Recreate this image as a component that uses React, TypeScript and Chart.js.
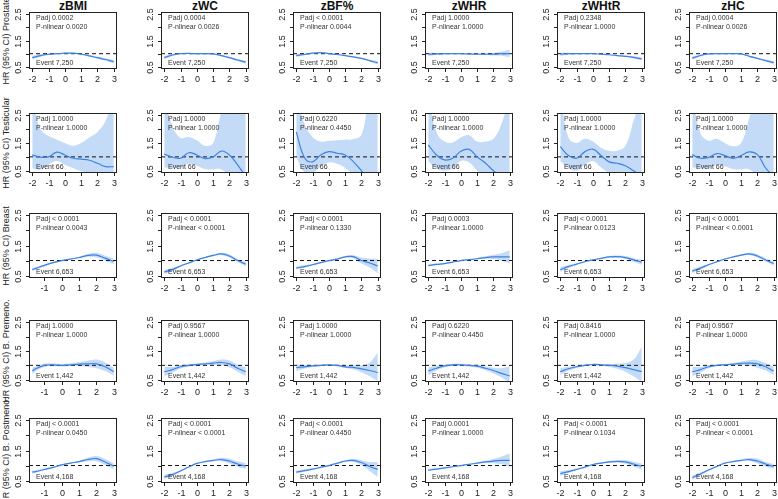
import React, { useEffect, useRef } from 'react';
import { Chart, registerables } from 'chart.js';

Chart.register(...registerables);

// ---------------- DATA ----------------
const measures = ['zBMI', 'zWC', 'zBF%', 'zWHR', 'zWHtR', 'zHC'];
const outcomes = ['Prostate', 'Testicular', 'Breast', 'B. Premeno.', 'B. Postmeno.'];
const events = ['7,250', '66', '6,653', '1,442', '4,168'];
const xGrid = [-2, -1.5, -1, -0.5, 0, 0.5, 1, 1.5, 2, 2.5, 3];
const xGridShort = [-1.7, -1.5, -1, -0.5, 0, 0.5, 1, 1.5, 2, 2.5, 3];
const xTicks = [-2, -1, 0, 1, 2, 3];
const yTicks = [0.5, 1, 1.5, 2, 2.5];
const yTickLabels = ['0.5', '', '1.5', '', '2.5'];
const refHR = 1;

const prostatePadj = ['0.0002', '0.0004', '< 0.0001', '1.0000', '0.2348', '0.0004'];
const prostatePnl = ['0.0020', '0.0026', '0.0044', '1.0000', '1.0000', '0.0026'];
const testicularPadj = ['1.0000', '1.0000', '0.6220', '1.0000', '1.0000', '1.0000'];
const testicularPnl = ['1.0000', '1.0000', '0.4450', '1.0000', '1.0000', '1.0000'];
const breastPadj = ['< 0.0001', '< 0.0001', '< 0.0001', '0.0003', '< 0.0001', '< 0.0001'];
const breastPnl = ['0.0043', '< 0.0001', '0.1330', '1.0000', '0.0123', '< 0.0001'];
const premenoPadj = ['1.0000', '0.9567', '1.0000', '0.6220', '0.8416', '0.9567'];
const premenoPnl = ['1.0000', '1.0000', '1.0000', '0.4450', '1.0000', '1.0000'];
const postmenoPadj = ['< 0.0001', '< 0.0001', '< 0.0001', '0.0001', '< 0.0001', '< 0.0001'];
const postmenoPnl = ['0.0450', '< 0.0001', '0.4450', '1.0000', '0.1034', '< 0.0001'];

// Prostate
const prostateFit = [
  [0.85, 0.93, 0.98, 1.0, 1.02, 1.02, 0.98, 0.92, 0.85, 0.78, 0.7],
  [0.85, 0.95, 1.0, 1.01, 1.0, 1.0, 0.99, 0.93, 0.85, 0.76, 0.68],
  [0.93, 0.97, 1.02, 1.04, 1.0, 0.97, 0.93, 0.88, 0.82, 0.74, 0.65],
  [0.98, 0.99, 1.0, 1.0, 1.0, 0.99, 0.98, 0.98, 0.98, 1.0, 1.0],
  [0.98, 1.0, 1.0, 1.0, 1.0, 0.98, 0.96, 0.93, 0.9, 0.86, 0.8],
  [0.83, 0.93, 0.99, 1.0, 1.0, 1.0, 0.99, 0.9, 0.82, 0.74, 0.66],
];
const prostateLo = [
  [0.78, 0.88, 0.95, 0.98, 1.0, 1.0, 0.96, 0.89, 0.81, 0.73, 0.63],
  [0.79, 0.91, 0.98, 0.99, 0.98, 0.98, 0.97, 0.9, 0.82, 0.72, 0.62],
  [0.87, 0.94, 1.0, 1.02, 0.98, 0.95, 0.91, 0.86, 0.79, 0.7, 0.58],
  [0.91, 0.95, 0.98, 0.99, 0.99, 0.98, 0.96, 0.95, 0.93, 0.92, 0.86],
  [0.91, 0.96, 0.98, 0.99, 0.99, 0.97, 0.95, 0.91, 0.88, 0.82, 0.74],
  [0.77, 0.89, 0.97, 0.99, 0.99, 0.99, 0.97, 0.88, 0.79, 0.7, 0.6],
];
const prostateHi = [
  [0.92, 0.98, 1.01, 1.02, 1.04, 1.04, 1.0, 0.95, 0.89, 0.83, 0.77],
  [0.91, 0.99, 1.02, 1.03, 1.02, 1.02, 1.01, 0.96, 0.88, 0.8, 0.74],
  [0.99, 1.0, 1.04, 1.06, 1.02, 0.99, 0.95, 0.9, 0.85, 0.78, 0.72],
  [1.05, 1.03, 1.02, 1.01, 1.01, 1.0, 1.0, 1.01, 1.03, 1.08, 1.15],
  [1.05, 1.04, 1.02, 1.01, 1.01, 0.99, 0.97, 0.95, 0.92, 0.9, 0.86],
  [0.89, 0.97, 1.01, 1.01, 1.01, 1.01, 1.01, 0.93, 0.85, 0.78, 0.72],
];

// Testicular
const testicularFit = [
  [1.07, 0.99, 1.0, 1.17, 1.07, 0.95, 0.92, 0.88, 0.77, 0.65, 0.65],
  [1.1, 0.99, 0.95, 1.15, 1.07, 0.94, 1.0, 1.21, 1.07, 0.71, 0.3],
  [1.9, 0.98, 0.82, 1.07, 1.19, 1.13, 1.07, 0.83, 0.5, 0.15, -0.2],
  [1.43, 1.07, 0.89, 0.95, 1.2, 1.27, 1.0, 0.78, 0.5, 0.25, 0.0],
  [1.37, 1.05, 0.95, 1.18, 1.28, 1.05, 0.82, 0.77, 0.68, 0.5, 0.3],
  [1.08, 0.95, 0.98, 1.12, 1.05, 0.95, 1.05, 1.18, 1.08, 0.6, 0.3],
];
const testicularLo = [
  [0.58, 0.54, 0.72, 0.85, 0.72, 0.6, 0.48, 0.4, 0.3, 0.2, 0.1],
  [0.62, 0.6, 0.62, 0.75, 0.68, 0.56, 0.55, 0.55, 0.3, 0.0, -0.2],
  [1.0, 0.45, 0.42, 0.65, 0.8, 0.75, 0.6, 0.35, 0.1, -0.1, -0.3],
  [0.85, 0.58, 0.5, 0.58, 0.85, 0.8, 0.5, 0.25, 0.05, -0.1, -0.3],
  [0.85, 0.6, 0.5, 0.72, 0.85, 0.62, 0.42, 0.3, 0.2, 0.0, -0.2],
  [0.62, 0.6, 0.58, 0.72, 0.66, 0.56, 0.55, 0.55, 0.3, 0.0, -0.2],
];
const testicularHi = [
  [3.0, 2.0, 1.75, 1.63, 1.5, 1.4, 1.5, 1.7, 1.9, 2.3, 3.2],
  [3.2, 2.1, 1.68, 1.72, 1.6, 1.4, 1.5, 2.6, 3.2, 3.2, 3.2],
  [3.2, 2.2, 1.72, 1.55, 1.58, 1.6, 1.62, 1.64, 1.8, 3.0, 3.2],
  [3.2, 1.9, 1.55, 1.52, 1.7, 1.78, 1.55, 1.55, 1.65, 2.2, 3.2],
  [3.2, 1.7, 1.5, 1.65, 1.55, 1.33, 1.22, 1.22, 1.4, 2.3, 3.2],
  [3.2, 1.85, 1.58, 1.65, 1.5, 1.38, 1.5, 2.4, 3.2, 3.2, 3.2],
];

// Breast
const breastFit = [
  [0.7, 0.74, 0.84, 0.93, 1.0, 1.05, 1.1, 1.17, 1.18, 1.08, 0.97],
  [0.62, 0.7, 0.82, 0.92, 1.02, 1.1, 1.17, 1.22, 1.15, 1.0, 0.88],
  [0.75, 0.8, 0.86, 0.93, 1.0, 1.05, 1.12, 1.13, 1.0, 0.92, 0.82],
  [0.83, 0.87, 0.9, 0.95, 1.0, 1.03, 1.06, 1.1, 1.12, 1.12, 1.12],
  [0.7, 0.8, 0.88, 0.96, 1.02, 1.07, 1.12, 1.13, 1.1, 1.02, 0.95],
  [0.65, 0.75, 0.86, 0.96, 1.05, 1.12, 1.18, 1.22, 1.15, 1.02, 0.9],
];
const breastLo = [
  [0.65, 0.7, 0.81, 0.91, 0.98, 1.03, 1.07, 1.12, 1.1, 1.0, 0.88],
  [0.55, 0.65, 0.79, 0.9, 1.0, 1.08, 1.14, 1.18, 1.1, 0.95, 0.81],
  [0.7, 0.76, 0.83, 0.91, 0.98, 1.03, 1.09, 1.08, 0.9, 0.77, 0.58],
  [0.79, 0.84, 0.88, 0.93, 0.99, 1.02, 1.04, 1.06, 1.05, 1.0, 0.9],
  [0.62, 0.75, 0.85, 0.94, 1.0, 1.05, 1.09, 1.09, 1.05, 0.96, 0.86],
  [0.58, 0.7, 0.83, 0.94, 1.03, 1.1, 1.15, 1.18, 1.1, 0.97, 0.83],
];
const breastHi = [
  [0.75, 0.78, 0.87, 0.95, 1.02, 1.07, 1.13, 1.22, 1.26, 1.16, 1.06],
  [0.69, 0.75, 0.85, 0.94, 1.04, 1.12, 1.2, 1.26, 1.2, 1.05, 0.95],
  [0.8, 0.84, 0.89, 0.95, 1.02, 1.07, 1.15, 1.18, 1.1, 1.07, 1.06],
  [0.87, 0.9, 0.92, 0.97, 1.01, 1.04, 1.08, 1.14, 1.19, 1.24, 1.34],
  [0.78, 0.85, 0.91, 0.98, 1.04, 1.09, 1.15, 1.17, 1.15, 1.08, 1.04],
  [0.72, 0.8, 0.89, 0.98, 1.07, 1.14, 1.21, 1.26, 1.2, 1.07, 0.97],
];

// Breast, premenopausal
const premenoFit = [
  [0.8, 0.88, 1.0, 1.02, 1.0, 1.02, 1.04, 1.05, 1.05, 0.95, 0.78],
  [0.78, 0.85, 0.95, 1.0, 1.03, 1.05, 1.08, 1.1, 1.05, 0.9, 0.78],
  [0.92, 0.95, 0.98, 1.0, 1.02, 1.0, 0.95, 0.93, 0.88, 0.82, 0.75],
  [0.8, 0.9, 0.98, 1.02, 1.02, 1.0, 0.97, 0.9, 0.82, 0.72, 0.63],
  [0.78, 0.88, 0.95, 1.0, 1.03, 1.02, 1.0, 0.97, 0.92, 0.85, 0.78],
  [0.78, 0.85, 0.95, 1.0, 1.02, 1.04, 1.07, 1.08, 1.05, 0.95, 0.8],
];
const premenoLo = [
  [0.68, 0.8, 0.94, 0.97, 0.96, 0.97, 0.97, 0.94, 0.9, 0.8, 0.64],
  [0.62, 0.75, 0.89, 0.96, 0.99, 1.0, 1.01, 1.0, 0.93, 0.78, 0.63],
  [0.8, 0.88, 0.94, 0.97, 0.99, 0.97, 0.91, 0.86, 0.76, 0.62, 0.45],
  [0.65, 0.82, 0.93, 0.98, 0.98, 0.96, 0.92, 0.83, 0.72, 0.58, 0.4],
  [0.66, 0.81, 0.91, 0.97, 1.0, 0.99, 0.95, 0.88, 0.78, 0.62, 0.42],
  [0.62, 0.75, 0.9, 0.97, 0.99, 1.0, 1.01, 0.98, 0.92, 0.82, 0.66],
];
const premenoHi = [
  [0.92, 0.96, 1.06, 1.07, 1.04, 1.07, 1.11, 1.16, 1.2, 1.1, 0.92],
  [0.94, 0.95, 1.01, 1.04, 1.07, 1.1, 1.15, 1.2, 1.17, 1.02, 0.93],
  [1.04, 1.02, 1.02, 1.03, 1.05, 1.03, 0.99, 1.0, 1.0, 1.1, 1.45],
  [0.95, 0.98, 1.03, 1.06, 1.06, 1.04, 1.02, 0.97, 0.92, 0.9, 0.98],
  [0.9, 0.95, 0.99, 1.03, 1.06, 1.05, 1.05, 1.06, 1.08, 1.2, 1.65],
  [0.94, 0.95, 1.0, 1.03, 1.05, 1.08, 1.13, 1.18, 1.18, 1.08, 0.94],
];

// Breast, postmenopausal
const postmenoFit = [
  [0.78, 0.8, 0.87, 0.94, 1.02, 1.08, 1.13, 1.2, 1.23, 1.12, 0.98],
  [0.62, 0.7, 0.82, 0.95, 1.07, 1.13, 1.17, 1.2, 1.15, 1.05, 0.98],
  [0.78, 0.83, 0.88, 0.94, 1.0, 1.07, 1.15, 1.17, 1.1, 0.97, 0.87],
  [0.85, 0.88, 0.92, 0.96, 1.0, 1.04, 1.08, 1.12, 1.15, 1.17, 1.17],
  [0.73, 0.8, 0.87, 0.95, 1.03, 1.08, 1.12, 1.14, 1.12, 1.05, 0.97],
  [0.6, 0.72, 0.85, 0.97, 1.08, 1.13, 1.17, 1.2, 1.15, 1.05, 0.97],
];
const postmenoLo = [
  [0.73, 0.76, 0.84, 0.92, 1.0, 1.06, 1.1, 1.14, 1.14, 1.02, 0.88],
  [0.55, 0.65, 0.79, 0.93, 1.05, 1.11, 1.14, 1.14, 1.07, 0.96, 0.88],
  [0.73, 0.79, 0.85, 0.92, 0.98, 1.05, 1.12, 1.12, 1.02, 0.82, 0.62],
  [0.81, 0.85, 0.9, 0.95, 0.99, 1.03, 1.06, 1.08, 1.08, 1.04, 0.95],
  [0.65, 0.75, 0.84, 0.93, 1.01, 1.06, 1.09, 1.1, 1.06, 0.97, 0.87],
  [0.53, 0.67, 0.82, 0.95, 1.06, 1.11, 1.14, 1.15, 1.07, 0.97, 0.89],
];
const postmenoHi = [
  [0.83, 0.84, 0.9, 0.96, 1.04, 1.1, 1.16, 1.26, 1.32, 1.22, 1.08],
  [0.69, 0.75, 0.85, 0.97, 1.09, 1.15, 1.2, 1.26, 1.23, 1.14, 1.08],
  [0.83, 0.87, 0.91, 0.96, 1.02, 1.09, 1.18, 1.22, 1.18, 1.12, 1.12],
  [0.89, 0.91, 0.94, 0.97, 1.01, 1.05, 1.1, 1.16, 1.22, 1.3, 1.4],
  [0.81, 0.85, 0.9, 0.97, 1.05, 1.1, 1.15, 1.18, 1.18, 1.13, 1.07],
  [0.67, 0.77, 0.88, 0.99, 1.1, 1.15, 1.2, 1.25, 1.23, 1.13, 1.05],
];

const fits = [prostateFit, testicularFit, breastFit, premenoFit, postmenoFit];
const lows = [prostateLo, testicularLo, breastLo, premenoLo, postmenoLo];
const highs = [prostateHi, testicularHi, breastHi, premenoHi, postmenoHi];
const padjs = [prostatePadj, testicularPadj, breastPadj, premenoPadj, postmenoPadj];
const pnls = [prostatePnl, testicularPnl, breastPnl, premenoPnl, postmenoPnl];

// ---------------- LAYOUT / STYLE ----------------
const FONT = '"Liberation Sans", Arial, Helvetica, sans-serif';
const LINE_COLOR = '#3d83e3';
const BAND_COLOR = '#c4dbf8';
const COL_LEFT0 = 29;
const COL_STEP = 131.9;
const BOX_W = 88;
const ROW_TOP = [12, 113, 213, 320, 418];
const ROW_H = [57, 60, 65, 62, 65];
const PAD_L = 24;
const PAD_T = 4;
const PAD_R = 6;
const PAD_B = 20;

const rAxesPlugin = {
  id: 'rAxes',
  afterDraw(chart: any, _args: any, opts: any) {
    const { ctx, chartArea: a, scales } = chart;
    const xs = scales.x;
    const ys = scales.y;
    ctx.save();
    ctx.strokeStyle = '#222';
    ctx.fillStyle = '#222';
    ctx.lineWidth = 1;
    ctx.strokeRect(a.left + 0.5, a.top + 0.5, a.right - a.left - 1, a.bottom - a.top - 1);
    // x axis
    ctx.font = `9px ${FONT}`;
    ctx.textAlign = 'center';
    ctx.textBaseline = 'middle';
    xTicks.forEach((v) => {
      if (v < xs.min || v > xs.max) return;
      const px = Math.round(xs.getPixelForValue(v)) + 0.5;
      ctx.beginPath();
      ctx.moveTo(px, a.bottom);
      ctx.lineTo(px, a.bottom + 3);
      ctx.stroke();
      ctx.fillText(String(v), px, a.bottom + 11);
    });
    // y axis
    yTicks.forEach((v, i) => {
      const py = Math.round(ys.getPixelForValue(v)) + 0.5;
      ctx.beginPath();
      ctx.moveTo(a.left, py);
      ctx.lineTo(a.left - 3, py);
      ctx.stroke();
      const lbl = yTickLabels[i];
      if (lbl) {
        ctx.save();
        ctx.translate(a.left - 10, py);
        ctx.rotate(-Math.PI / 2);
        ctx.fillText(lbl, 0, 0);
        ctx.restore();
      }
    });
    // annotations
    ctx.font = `7px ${FONT}`;
    ctx.textAlign = 'left';
    ctx.fillStyle = '#333';
    ctx.fillText(`Padj ${opts.padj}`, a.left + 7, a.top + 6);
    ctx.fillText(`P-nlinear ${opts.pnl}`, a.left + 7, a.top + 15);
    ctx.fillText(`Event ${opts.event}`, a.left + 7, a.bottom - 6);
    ctx.restore();
  },
};

function Panel({ r, c }: { r: number; c: number }) {
  const ref = useRef<HTMLCanvasElement>(null);
  const boxLeft = Math.round(COL_LEFT0 + COL_STEP * c);
  const boxTop = ROW_TOP[r];
  const w = BOX_W + PAD_L + PAD_R;
  const h = ROW_H[r] + PAD_T + PAD_B;

  useEffect(() => {
    if (!ref.current) return;
    const short = c === 0 && r >= 2;
    const xs = short ? xGridShort : xGrid;
    const dataMin = xs[0];
    const dataMax = xs[xs.length - 1];
    const ext = (dataMax - dataMin) * 0.04;
    const xMin = dataMin - ext;
    const xMax = dataMax + ext;
    const pts = (arr: number[]) => xs.map((x, i) => ({ x, y: arr[i] }));
    const chart = new Chart(ref.current, {
      type: 'line',
      data: {
        datasets: [
          {
            data: pts(fits[r][c]),
            borderColor: LINE_COLOR,
            borderWidth: 1.2,
            pointRadius: 0,
            tension: 0.4,
            fill: false,
          },
          {
            data: [
              { x: xMin, y: refHR },
              { x: xMax, y: refHR },
            ],
            borderColor: '#111',
            borderWidth: 1,
            borderDash: [4, 3],
            pointRadius: 0,
            fill: false,
          },
          {
            data: pts(highs[r][c]),
            borderWidth: 0,
            borderColor: 'rgba(0,0,0,0)',
            backgroundColor: BAND_COLOR,
            pointRadius: 0,
            tension: 0.4,
            fill: '+1',
          },
          {
            data: pts(lows[r][c]),
            borderWidth: 0,
            borderColor: 'rgba(0,0,0,0)',
            pointRadius: 0,
            tension: 0.4,
            fill: false,
          },
        ],
      },
      options: {
        responsive: false,
        animation: false,
        events: [],
        layout: { padding: { left: PAD_L, top: PAD_T, right: PAD_R, bottom: PAD_B } },
        scales: {
          x: { type: 'linear', min: xMin, max: xMax, display: false },
          y: { type: 'linear', min: 0.42, max: 2.58, display: false },
        },
        plugins: {
          legend: { display: false },
          tooltip: { enabled: false },
          rAxes: { padj: padjs[r][c], pnl: pnls[r][c], event: events[r] },
        } as any,
      },
      plugins: [rAxesPlugin as any],
    });
    return () => chart.destroy();
  }, [r, c]);

  return (
    <canvas
      ref={ref}
      width={w}
      height={h}
      style={{ position: 'absolute', left: boxLeft - PAD_L, top: boxTop - PAD_T, width: w, height: h }}
    />
  );
}

export default function App() {
  const panels: React.ReactNode[] = [];
  outcomes.forEach((_o, r) => {
    measures.forEach((_m, c) => {
      panels.push(<Panel key={`${r}-${c}`} r={r} c={c} />);
    });
  });
  return (
    <div
      style={{
        position: 'absolute',
        left: 0,
        top: 0,
        width: 778,
        height: 499,
        background: '#fff',
        overflow: 'hidden',
        fontFamily: FONT,
      }}
    >
      {measures.map((m, c) => (
        <div
          key={m}
          style={{
            position: 'absolute',
            left: Math.round(COL_LEFT0 + COL_STEP * c) + BOX_W / 2 - 50,
            top: -1,
            width: 100,
            textAlign: 'center',
            fontWeight: 'bold',
            fontSize: 12,
            lineHeight: '14px',
            color: '#111',
          }}
        >
          {m}
        </div>
      ))}
      {outcomes.map((o, r) => (
        <div
          key={o}
          style={{
            position: 'absolute',
            left: 6,
            top: ROW_TOP[r] + ROW_H[r] / 2,
            transform: 'translate(-50%, -50%) rotate(-90deg)',
            whiteSpace: 'nowrap',
            fontSize: 9,
            lineHeight: '10px',
            color: '#222',
          }}
        >
          {`HR (95% CI) ${o}`}
        </div>
      ))}
      {panels}
    </div>
  );
}
